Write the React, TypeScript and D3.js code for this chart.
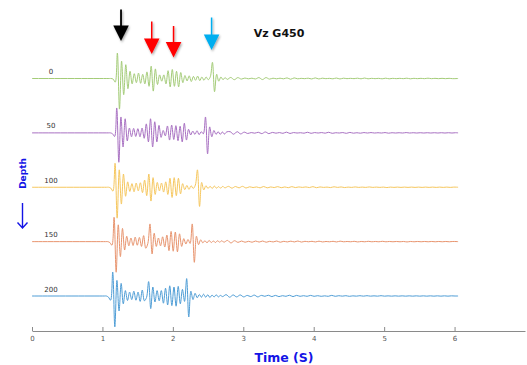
import React, { useRef, useEffect } from "react";
import * as d3 from "d3";

// depth of each receiver (m) and its trace colour
const depths = [0, 50, 100, 150, 200];
const traceColors = ["#a4cc78", "#a870c2", "#f6c75e", "#e8946e", "#4e9dd6"];

// time (s) of the first sample of each wiggle segment
const onsets = [1.122, 1.113, 1.089, 1.075, 1.056];

// main part of each trace, one extremum every 0.03 s
const mainAmps = [
  [0, -0.2, -1.2, 8.5, -10.2, 5.8, -5.4, 4.6, -3.4, 2.4, -1.8, 1.6, -1.4, 1.8, -1.6, 1.4, -1.8, 2.2, -2.6, 4.1,
   -4.2, 3.2, -2.0, 1.2, -0.9, 1.2, -1.8, 2.6, -2.8, 3.0, -2.6, 2.4, -2.8, 2.0, -1.4, 1.0, -0.8, 0.9, -1.0, 0.7,
   -0.6, 0.8, -0.7, 0.5, -0.6, 0.5, -0.4, 0.6, 5.4, -4.4, 1.4, -0.9, 0.5, -0.4, 0.3, -0.3],
  [0, -0.3, -1.2, 8.3, -9.8, 5.3, -4.7, 4.7, -2.7, 1.6, -1.3, 1.5, -1.2, 1.4, -1.3, 1.6, -1.8, 3.0, -3.0, 4.7,
   -4.7, 3.7, -3.0, 2.5, -1.5, 0.8, -1.0, 2.3, -2.4, 2.6, -2.2, 2.4, -2.6, 2.2, -3.0, 3.2, -2.4, 1.2, -0.7, 0.6,
   -0.5, 0.7, -0.6, 0.4, -0.3, 5.3, -7.0, 2.0, -1.3, 0.8, -0.5, 0.4, -0.5, 0.3, -0.4, 0.3],
  [0, -0.3, -1.3, 8.0, -10.3, 5.8, -5.6, 4.4, -3.0, 1.8, -1.4, 1.2, -1.5, 1.4, -1.2, 1.5, -1.8, 2.4, -2.8, 4.4,
   -4.6, 3.2, -2.4, 1.6, -1.2, 1.4, -1.6, 1.8, -2.4, 3.0, -3.4, 3.2, -2.8, 3.0, -2.2, 1.2, -0.8, 0.6, -0.7, 0.5,
   -0.4, 0.7, 5.8, -6.4, 1.6, -0.9, 0.5, -0.4, 0.3, -0.4, 0.4, -0.3, 0.2, -0.3, 0.3, -0.2],
  [0, -0.3, -1.2, 8.1, -10.2, 5.6, -5.0, 4.4, -2.8, 1.8, -1.4, 1.2, -1.3, 1.5, -1.2, 1.4, -1.6, 2.0, -2.2, -0.6,
   5.9, -4.1, 2.8, -1.6, 1.2, -1.4, 1.6, -1.8, 2.2, -3.0, 3.4, -3.2, 3.2, -3.4, 2.6, -1.6, 1.0, -0.8, 0.7, -0.6,
   5.9, -6.9, 1.8, -1.0, 0.6, -0.4, 0.3, -0.4, 0.4, -0.3, 0.2, -0.3, 0.3, -0.2, 0.3, -0.2],
  [0, -0.4, -1.4, 8.0, -10.3, 5.2, -5.0, 4.2, -2.6, 1.8, -1.5, 1.3, -1.2, 1.6, -1.4, 1.3, -1.8, 2.0, -1.6, -0.5,
   4.8, -4.2, 3.0, -2.0, 1.8, -1.6, 1.8, -2.4, 2.6, -3.0, 3.4, -3.2, 3.0, -3.4, 3.2, -2.6, 2.2, -1.8, 5.8, -7.0,
   1.6, -1.2, 0.9, -0.6, 0.5, -0.4, 0.6, -0.4, 0.4, -0.5, 0.3, -0.3, 0.4, -0.3, 0.2, -0.2],
];

// late coda, one extremum every 0.05 s
const tailAmps = [
  [0.35, -0.4, 0.3, -0.2, 0.15, -0.1, 0.1, -0.15, 0.3, -0.35, 0.3, -0.2, 0.1, -0.1, 0.1, -0.1, 0.2, -0.25, 0.2, -0.1,
   0.05, -0.05, 0.1, -0.15, 0.2, -0.15, 0.1, -0.05, 0.05, -0.1, 0.15, -0.15, 0.1, -0.05, 0.05, -0.05, 0.1, -0.1, 0.15, -0.1,
   0.05, -0.05, 0.05, -0.1, 0.1, -0.1, 0.05, -0.05, 0.05, -0.05, 0.1, -0.1, 0.05, -0.05, 0.05, -0.05, 0.1, -0.05, 0.05, -0.05,
   0.05, -0.05, 0.05, -0.05, 0.05, 0],
  [0.4, -0.45, 0.4, -0.35, 0.25, -0.2, 0.1, -0.1, 0.2, -0.25, 0.3, -0.25, 0.15, -0.1, 0.1, -0.15, 0.25, -0.2, 0.1, -0.05,
   0.05, -0.1, 0.2, -0.15, 0.1, -0.05, 0.1, -0.1, 0.2, -0.15, 0.05, -0.05, 0.1, -0.15, 0.15, -0.1, 0.05, -0.1, 0.1, -0.05,
   0.1, -0.05, 0.05, -0.05, 0.1, -0.1, 0.05, -0.05, 0.05, -0.05, 0.1, -0.05, 0.05, -0.05, 0.05, -0.05, 0.05, -0.05, 0.05, -0.05,
   0.05, -0.05, 0.05, -0.05, 0.05, 0],
  [0.3, -0.3, 0.25, -0.2, 0.3, -0.25, 0.15, -0.1, 0.1, -0.2, 0.25, -0.2, 0.1, -0.1, 0.2, -0.15, 0.1, -0.15, 0.2, -0.1,
   0.1, -0.05, 0.1, -0.1, 0.2, -0.15, 0.1, -0.05, 0.05, -0.1, 0.15, -0.05, 0.1, -0.1, 0.05, -0.05, 0.1, -0.05, 0.05, -0.05,
   0.1, -0.05, 0.05, -0.05, 0.05, -0.1, 0.05, -0.05, 0.05, -0.05, 0.05, -0.05, 0.05, -0.05, 0.05, -0.05, 0.05, -0.05, 0.05, -0.05,
   0.05, -0.05, 0.05, -0.05, 0.05, 0],
  [0.4, -0.45, 0.3, -0.25, 0.2, -0.2, 0.1, -0.2, 0.2, -0.15, 0.2, -0.2, 0.1, -0.1, 0.2, -0.2, 0.1, -0.1, 0.15, -0.1,
   0.2, -0.15, 0.1, -0.05, 0.1, -0.1, 0.15, -0.1, 0.05, -0.05, 0.1, -0.1, 0.15, -0.05, 0.05, -0.05, 0.1, -0.1, 0.05, -0.05,
   0.1, -0.05, 0.05, -0.05, 0.1, -0.05, 0.05, -0.05, 0.05, -0.05, 0.05, -0.1, 0.05, -0.05, 0.05, -0.05, 0.05, -0.05, 0.05, -0.05,
   0.05, -0.05, 0.05, -0.05, 0.05, 0],
  [0.45, -0.4, 0.35, -0.3, 0.35, -0.3, 0.2, -0.2, 0.3, -0.3, 0.2, -0.1, 0.25, -0.2, 0.2, -0.2, 0.1, -0.1, 0.25, -0.2,
   0.2, -0.1, 0.1, -0.1, 0.2, -0.1, 0.1, -0.1, 0.05, -0.1, 0.2, -0.1, 0.1, -0.05, 0.1, -0.1, 0.05, -0.05, 0.1, -0.05,
   0.1, -0.05, 0.05, -0.05, 0.1, -0.05, 0.05, -0.05, 0.05, -0.05, 0.05, -0.05, 0.05, -0.05, 0.05, -0.05, 0.05, -0.05, 0.05, -0.05,
   0.05, -0.05, 0.05, -0.05, 0.05, 0],
];

const timeTicks = [0, 1, 2, 3, 4, 5, 6];
const recordEnd = 6.05;

// phase picks marked at the top
const arrowTimes = [1.264, 1.7, 2.01, 2.55];
const arrowColors = ["#000000", "#ff0000", "#ff0000", "#00aeef"];

const App: React.FC = () => {
  const ref = useRef<SVGSVGElement | null>(null);

  useEffect(() => {
    const width = 527;
    const height = 365;
    const svg = d3.select(ref.current);
    svg.selectAll("*").remove();
    svg
      .attr("width", width)
      .attr("height", height)
      .style("position", "absolute")
      .style("left", 0)
      .style("top", 0)
      .style("background", "#fff")
      .style("font-family", "'DejaVu Sans', sans-serif");

    const x = d3.scaleLinear().domain([0, 7]).range([32, 525]);
    const y = d3.scaleLinear().domain([0, 200]).range([78.5, 296]);
    const amp = d3.scaleLinear().domain([-10, 10]).range([30, -30]);

    const defs = svg.append("defs");
    defs
      .append("filter")
      .attr("id", "shadow")
      .attr("x", "-50%")
      .attr("y", "-50%")
      .attr("width", "200%")
      .attr("height", "200%")
      .append("feDropShadow")
      .attr("dx", 1)
      .attr("dy", 1.5)
      .attr("stdDeviation", 1.2)
      .attr("flood-color", "#000")
      .attr("flood-opacity", 0.35);

    // x axis, ticks pointing up
    const axis = svg
      .append("g")
      .attr("transform", `translate(0,331)`)
      .call(
        d3
          .axisBottom(x)
          .tickValues(timeTicks)
          .tickFormat(d3.format("d"))
          .tickSize(-4)
          .tickSizeOuter(0)
          .tickPadding(5)
      );
    axis.select(".domain").attr("stroke", "#8a8a8a");
    axis.selectAll(".tick line").attr("stroke", "#8a8a8a");
    axis
      .selectAll(".tick text")
      .attr("fill", "#555")
      .style("font-size", "7px")
      .style("font-family", "'DejaVu Sans', sans-serif");

    // traces
    const line = d3
      .line<[number, number]>()
      .x((d) => x(d[0]))
      .y((d) => d[1])
      .curve(d3.curveCatmullRom.alpha(0.5));

    depths.forEach((depth, k) => {
      const base = y(depth);
      const onset = onsets[k];
      const pts: [number, number][] = [
        [0, base],
        [onset - 0.03, base],
      ];
      mainAmps[k].forEach((a, i) => pts.push([onset + i * 0.03, base + amp(a)]));
      const tailStart = onset + (mainAmps[k].length - 1) * 0.03;
      tailAmps[k].forEach((a, i) => {
        const t = tailStart + (i + 1) * 0.05;
        if (t < recordEnd - 0.03) pts.push([t, base + amp(a)]);
      });
      pts.push([recordEnd, base]);

      svg
        .append("path")
        .attr("d", line(pts))
        .attr("fill", "none")
        .attr("stroke", traceColors[k])
        .attr("stroke-width", 1)
        .attr("stroke-linejoin", "round");

      svg
        .append("text")
        .attr("x", 51)
        .attr("y", base - 4.5)
        .attr("text-anchor", "middle")
        .style("font-size", "7px")
        .attr("fill", "#333")
        .text(String(depth));
    });

    // pick arrows
    const tipY = [41, 54, 57.5, 50];
    const shaftLen = [31.5, 32.5, 31.5, 32.5];
    arrowTimes.forEach((t, i) => {
      const cx = x(t);
      const g = svg.append("g").attr("filter", "url(#shadow)");
      g.append("line")
        .attr("x1", cx)
        .attr("x2", cx)
        .attr("y1", tipY[i] - shaftLen[i])
        .attr("y2", tipY[i] - 12)
        .attr("stroke", arrowColors[i])
        .attr("stroke-width", i === 0 ? 1.8 : 1.5);
      g.append("path")
        .attr(
          "d",
          `M${cx - 7.8},${tipY[i] - 15.5} L${cx + 7.8},${tipY[i] - 15.5} L${cx},${tipY[i]} Z`
        )
        .attr("fill", arrowColors[i]);
    });

    svg
      .append("text")
      .attr("x", 279)
      .attr("y", 36.5)
      .attr("text-anchor", "middle")
      .style("font-size", "11px")
      .style("font-weight", "bold")
      .attr("fill", "#111")
      .text("Vz G450");

    // axis titles
    const blue = "#1414e6";
    svg
      .append("text")
      .attr("x", 284)
      .attr("y", 361.5)
      .attr("text-anchor", "middle")
      .style("font-size", "12.5px")
      .style("font-weight", "bold")
      .attr("fill", blue)
      .text("Time (S)");

    svg
      .append("text")
      .attr("transform", "translate(26,173.5) rotate(-90)")
      .attr("text-anchor", "middle")
      .style("font-size", "9px")
      .style("font-weight", "bold")
      .attr("fill", blue)
      .text("Depth");

    svg
      .append("path")
      .attr("d", "M22.5,203 L22.5,228 M17.5,222.5 L22.5,228 L27.5,222.5")
      .attr("fill", "none")
      .attr("stroke", blue)
      .attr("stroke-width", 1.4);
  }, []);

  return <svg ref={ref}></svg>;
};

export default App;
